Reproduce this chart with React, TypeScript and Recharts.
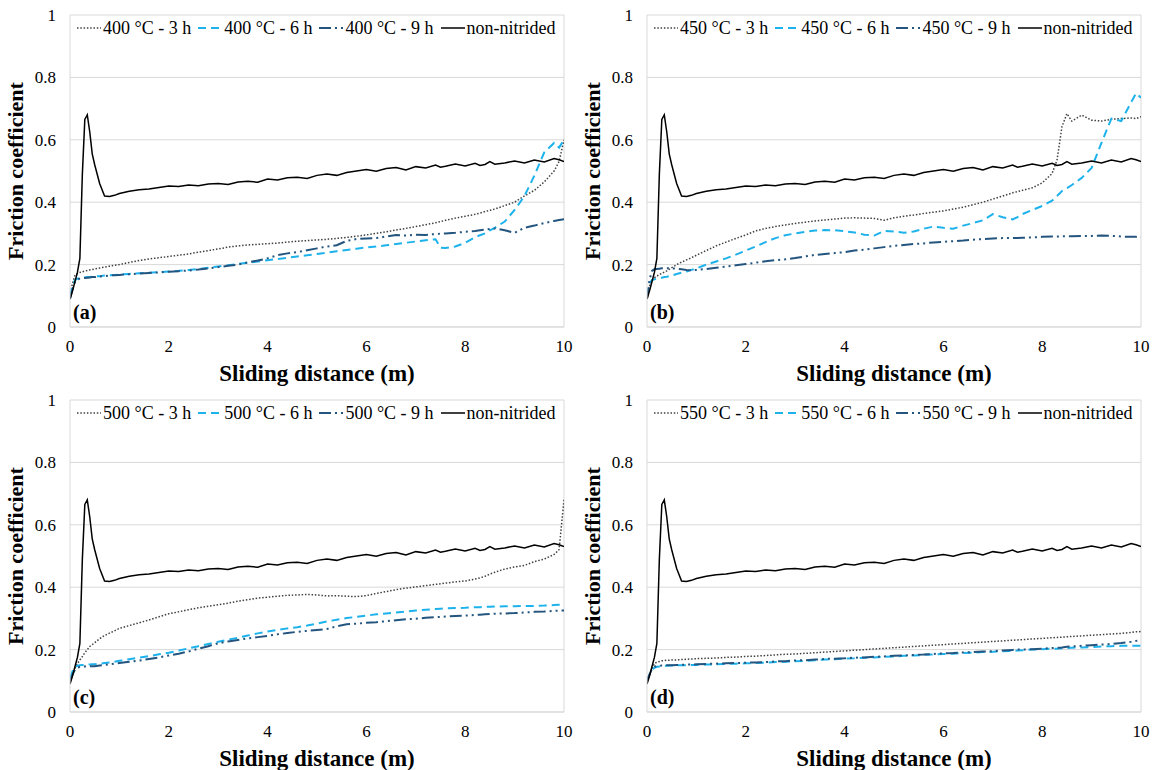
import React from 'react';
import { LineChart, Line, XAxis, YAxis, CartesianGrid, ReferenceLine } from 'recharts';

// Sliding distance grid (m)
const DIST = [
  0, 0.05, 0.1, 0.15, 0.2, 0.25, 0.3, 0.35, 0.4, 0.45, 0.5, 0.6, 0.7, 0.8, 0.9,
  1.0, 1.2, 1.4, 1.6, 1.8, 2.0, 2.2, 2.4, 2.6, 2.8, 3.0, 3.2, 3.4, 3.6, 3.8,
  4.0, 4.2, 4.4, 4.6, 4.8, 5.0, 5.2, 5.4, 5.6, 5.8, 6.0, 6.2, 6.4, 6.6, 6.8, 7.0, 7.2, 7.4,
  7.5, 7.6, 7.8, 8.0, 8.2, 8.3, 8.4, 8.5, 8.6, 8.8,
  9.0, 9.2, 9.4, 9.6, 9.8, 9.9, 10.0,
];

const NON_NITRIDED = [
  0.09, 0.115, 0.145, 0.175, 0.22, 0.49, 0.665, 0.68, 0.625, 0.555, 0.52, 0.46, 0.42, 0.418, 0.422,
  0.428, 0.435, 0.44, 0.442, 0.447, 0.452, 0.45, 0.455, 0.453, 0.458, 0.46, 0.457, 0.465, 0.467, 0.464,
  0.474, 0.471, 0.478, 0.48, 0.476, 0.486, 0.49, 0.486, 0.495, 0.5, 0.505, 0.499, 0.508, 0.511, 0.503, 0.514, 0.51, 0.519,
  0.512, 0.515, 0.522, 0.516, 0.525, 0.518, 0.521, 0.53, 0.522, 0.526,
  0.532, 0.526, 0.535, 0.529, 0.54, 0.536, 0.53,
];

// 400 °C
const T400_3H = [
  0.10, 0.14, 0.165, 0.172, 0.175, 0.177, 0.179, 0.181, 0.183, 0.184, 0.186, 0.189, 0.192, 0.195, 0.198,
  0.20, 0.207, 0.213, 0.218, 0.222, 0.226, 0.23, 0.234, 0.24, 0.245, 0.25, 0.256, 0.26, 0.263, 0.265,
  0.267, 0.269, 0.272, 0.275, 0.277, 0.279, 0.281, 0.284, 0.287, 0.291, 0.295, 0.3, 0.305, 0.311, 0.316, 0.322, 0.328, 0.334,
  0.338, 0.342, 0.349, 0.355, 0.361, 0.365, 0.37, 0.374, 0.378, 0.389,
  0.40, 0.42, 0.438, 0.465, 0.50, 0.53, 0.60,
];
const T400_6H = [
  0.10, 0.13, 0.15, 0.155, 0.157, 0.158, 0.159, 0.16, 0.16, 0.161, 0.162, 0.163, 0.165, 0.166, 0.167,
  0.168, 0.17, 0.172, 0.174, 0.176, 0.178, 0.18, 0.183, 0.186, 0.19, 0.194, 0.198, 0.202, 0.206, 0.21,
  0.214, 0.218, 0.222, 0.226, 0.23, 0.234, 0.238, 0.243, 0.247, 0.251, 0.255, 0.258, 0.262, 0.266, 0.27, 0.274, 0.278, 0.281,
  0.254, 0.253, 0.258, 0.27, 0.288, 0.294, 0.30, 0.31, 0.318, 0.338,
  0.375, 0.42, 0.485, 0.56, 0.59, 0.575, 0.60,
];
const T400_9H = [
  0.09, 0.12, 0.145, 0.152, 0.155, 0.156, 0.157, 0.158, 0.159, 0.16, 0.16, 0.162, 0.163, 0.165, 0.166,
  0.167, 0.169, 0.171, 0.173, 0.175, 0.177, 0.179, 0.181, 0.184, 0.188, 0.192, 0.196, 0.2, 0.207, 0.213,
  0.22, 0.23, 0.236, 0.24, 0.246, 0.252, 0.258, 0.262, 0.276, 0.282, 0.284, 0.285, 0.29, 0.295, 0.293, 0.296, 0.295, 0.298,
  0.299, 0.30, 0.302, 0.305, 0.308, 0.31, 0.312, 0.314, 0.316, 0.31,
  0.302, 0.318, 0.325, 0.333, 0.34, 0.343, 0.345,
];

// 450 °C
const T450_3H = [
  0.10, 0.13, 0.15, 0.158, 0.163, 0.168, 0.172, 0.176, 0.18, 0.185, 0.19, 0.2, 0.208, 0.215, 0.222,
  0.23, 0.245, 0.26, 0.272, 0.284, 0.295, 0.308, 0.316, 0.322, 0.327, 0.332, 0.336, 0.34, 0.343, 0.346,
  0.349, 0.35, 0.349, 0.348, 0.342, 0.35, 0.355, 0.359, 0.364, 0.368, 0.372, 0.378, 0.384, 0.392, 0.40, 0.41, 0.42, 0.43,
  0.434, 0.438, 0.446, 0.462, 0.492, 0.535, 0.642, 0.684, 0.66, 0.679,
  0.663, 0.66, 0.666, 0.668, 0.67, 0.668, 0.674,
];
const T450_6H = [
  0.10, 0.14, 0.15, 0.153, 0.155, 0.157, 0.158, 0.16, 0.161, 0.163, 0.165, 0.17, 0.174, 0.178, 0.183,
  0.188, 0.2, 0.21, 0.22, 0.232, 0.245, 0.258, 0.272, 0.285, 0.294, 0.30, 0.305, 0.309, 0.311, 0.31,
  0.307, 0.303, 0.296, 0.293, 0.308, 0.306, 0.302, 0.306, 0.315, 0.322, 0.318, 0.315, 0.325, 0.333, 0.342, 0.362, 0.352, 0.345,
  0.352, 0.362, 0.375, 0.388, 0.405, 0.42, 0.436, 0.445, 0.455, 0.478,
  0.51, 0.59, 0.668, 0.66, 0.72, 0.749, 0.735,
];
const T450_9H = [
  0.09, 0.15, 0.18, 0.185, 0.186, 0.187, 0.188, 0.188, 0.188, 0.188, 0.188, 0.187, 0.185, 0.183, 0.182,
  0.183, 0.186, 0.19, 0.194, 0.198, 0.202, 0.206, 0.211, 0.214, 0.217, 0.221, 0.226, 0.231, 0.234, 0.237,
  0.24, 0.245, 0.248, 0.252, 0.256, 0.26, 0.263, 0.266, 0.268, 0.271, 0.273, 0.275, 0.277, 0.28, 0.282, 0.284, 0.285, 0.285,
  0.285, 0.286, 0.287, 0.289, 0.29, 0.29, 0.291, 0.291, 0.291, 0.292,
  0.292, 0.293, 0.292, 0.29, 0.289, 0.289, 0.288,
];

// 500 °C
const T500_3H = [
  0.10, 0.12, 0.14, 0.155, 0.167, 0.178, 0.19, 0.2, 0.21, 0.216, 0.222, 0.235, 0.245, 0.253, 0.26,
  0.268, 0.277, 0.286, 0.295, 0.305, 0.315, 0.321, 0.328, 0.334, 0.339, 0.344, 0.349, 0.355, 0.36, 0.365,
  0.368, 0.371, 0.374, 0.375, 0.377, 0.375, 0.372, 0.373, 0.371, 0.37, 0.373, 0.38, 0.386, 0.392, 0.397, 0.401, 0.405, 0.409,
  0.411, 0.413, 0.417, 0.42, 0.426, 0.43, 0.435, 0.442, 0.448, 0.458,
  0.465, 0.47, 0.482, 0.49, 0.505, 0.52, 0.68,
];
const T500_6H = [
  0.11, 0.13, 0.145, 0.148, 0.15, 0.151, 0.151, 0.152, 0.152, 0.153, 0.153, 0.155, 0.157, 0.159, 0.161,
  0.164, 0.169, 0.174, 0.179, 0.185, 0.19, 0.197, 0.204, 0.211, 0.218, 0.225, 0.232, 0.238, 0.245, 0.252,
  0.258, 0.263, 0.268, 0.272, 0.277, 0.283, 0.29, 0.296, 0.301, 0.305, 0.309, 0.313, 0.316, 0.319, 0.322, 0.325, 0.328, 0.33,
  0.331, 0.332, 0.333, 0.334, 0.336, 0.336, 0.337, 0.337, 0.338, 0.339,
  0.339, 0.34, 0.34, 0.341, 0.343, 0.344, 0.345,
];
const T500_9H = [
  0.10, 0.12, 0.135, 0.142, 0.145, 0.146, 0.146, 0.147, 0.147, 0.147, 0.147, 0.149, 0.151, 0.153, 0.155,
  0.157, 0.161, 0.165, 0.17, 0.175, 0.181, 0.187, 0.194, 0.203, 0.211, 0.22, 0.226, 0.231, 0.236, 0.24,
  0.244, 0.249, 0.253, 0.257, 0.26, 0.263, 0.266, 0.275, 0.281, 0.283, 0.286, 0.288, 0.291, 0.294, 0.297, 0.299, 0.302, 0.304,
  0.305, 0.306, 0.308, 0.309, 0.311, 0.312, 0.313, 0.314, 0.315, 0.316,
  0.317, 0.319, 0.321, 0.322, 0.324, 0.325, 0.325,
];

// 550 °C
const T550_3H = [
  0.10, 0.12, 0.14, 0.155, 0.16, 0.162, 0.164, 0.165, 0.166, 0.166, 0.167, 0.167, 0.168, 0.169, 0.17,
  0.171, 0.172, 0.173, 0.175, 0.176, 0.178, 0.179, 0.181, 0.183, 0.185, 0.186, 0.188, 0.19, 0.192, 0.194,
  0.196, 0.198, 0.2, 0.202, 0.204, 0.206, 0.208, 0.21, 0.212, 0.214, 0.216, 0.218, 0.22, 0.222, 0.224, 0.226, 0.228, 0.23,
  0.231, 0.232, 0.234, 0.236, 0.238, 0.239, 0.24, 0.241, 0.242, 0.244,
  0.246, 0.248, 0.25, 0.252, 0.255, 0.257, 0.258,
];
const T550_6H = [
  0.10, 0.12, 0.135, 0.142, 0.145, 0.146, 0.147, 0.148, 0.148, 0.149, 0.149, 0.15, 0.15, 0.15, 0.151,
  0.151, 0.152, 0.153, 0.154, 0.155, 0.156, 0.157, 0.158, 0.16, 0.161, 0.163, 0.164, 0.166, 0.168, 0.169,
  0.171, 0.172, 0.174, 0.175, 0.177, 0.178, 0.18, 0.181, 0.183, 0.184, 0.186, 0.187, 0.189, 0.19, 0.192, 0.193, 0.195, 0.196,
  0.197, 0.198, 0.2, 0.201, 0.203, 0.203, 0.204, 0.205, 0.206, 0.207,
  0.208, 0.21, 0.211, 0.212, 0.212, 0.212, 0.212,
];
const T550_9H = [
  0.10, 0.12, 0.138, 0.145, 0.147, 0.148, 0.149, 0.149, 0.15, 0.15, 0.15, 0.151, 0.151, 0.152, 0.152,
  0.153, 0.154, 0.155, 0.156, 0.157, 0.158, 0.159, 0.16, 0.162, 0.163, 0.165, 0.166, 0.168, 0.17, 0.171,
  0.172, 0.174, 0.175, 0.177, 0.178, 0.18, 0.181, 0.183, 0.184, 0.186, 0.188, 0.189, 0.191, 0.192, 0.194, 0.195, 0.197, 0.199,
  0.2, 0.2, 0.201, 0.203, 0.205, 0.206, 0.207, 0.209, 0.21, 0.212,
  0.214, 0.216, 0.218, 0.221, 0.225, 0.228, 0.23,
];

const Y_TICKS = [0, 0.2, 0.4, 0.6, 0.8, 1];
const X_TICKS = [0, 2, 4, 6, 8, 10];
const X_TITLE = 'Sliding distance (m)';
const Y_TITLE = 'Friction coefficient';
const NN_LABEL = 'non-nitrided';

const FONT = "'Liberation Serif', 'DejaVu Serif', 'Noto Serif', 'Times New Roman', Times, serif";
const COL3 = '#404040';
const COL6 = '#1db2ec';
const COL9 = '#24557f';
const COLNN = '#000000';
const GRID = '#d9d9d9';

const DASH3 = '1.5 1.8';
const DASH6 = '8 5';
const DASH9 = '12 4 2 4 2 4';

type PanelProps = {
  left: number;
  top: number;
  temp: string;
  tag: string;
  s3: number[];
  s6: number[];
  s9: number[];
};

function Sample({ color, dash, width }: { color: string; dash?: string; width: number }) {
  return (
    <svg width={24} height={10} style={{ display: 'block', marginRight: 2 }}>
      <line x1={0} y1={5} x2={24} y2={5} stroke={color} strokeWidth={width} strokeDasharray={dash} />
    </svg>
  );
}

function Panel({ left, top, temp, tag, s3, s6, s9 }: PanelProps) {
  const rows = DIST.map((d, i) => ({ d, s3: s3[i], s6: s6[i], s9: s9[i], nn: NON_NITRIDED[i] }));
  const items = [
    { label: `${temp} °C - 3 h`, color: COL3, dash: DASH3, w: 1.5 },
    { label: `${temp} °C - 6 h`, color: COL6, dash: DASH6, w: 2 },
    { label: `${temp} °C - 9 h`, color: COL9, dash: DASH9, w: 2 },
    { label: NN_LABEL, color: COLNN, dash: undefined, w: 1.5 },
  ];
  return (
    <div style={{ position: 'absolute', left, top, width: 580, height: 385, fontFamily: FONT }}>
      <LineChart width={580} height={385} data={rows} margin={{ top: 15, right: 16, left: 0, bottom: 0 }} style={{ fontFamily: FONT }}>
        <CartesianGrid vertical={false} stroke={GRID} />
        <ReferenceLine x={10} stroke={GRID} />
        <XAxis
          dataKey="d"
          type="number"
          domain={[0, 10]}
          ticks={X_TICKS}
          allowDataOverflow
          axisLine={{ stroke: GRID }}
          tickLine={false}
          tickSize={0}
          tickMargin={13}
          height={58}
          tick={{ fill: '#000', fontSize: 17, fontFamily: FONT }}
        />
        <YAxis
          type="number"
          domain={[0, 1]}
          ticks={Y_TICKS}
          allowDataOverflow
          axisLine={{ stroke: GRID }}
          tickLine={false}
          tickSize={0}
          tickMargin={14}
          width={70}
          tick={{ fill: '#000', fontSize: 17, fontFamily: FONT }}
        />
        <Line type="linear" dataKey="s3" stroke={COL3} strokeWidth={1.5} strokeDasharray={DASH3} dot={false} isAnimationActive={false} />
        <Line type="linear" dataKey="s6" stroke={COL6} strokeWidth={2} strokeDasharray={DASH6} dot={false} isAnimationActive={false} />
        <Line type="linear" dataKey="s9" stroke={COL9} strokeWidth={2} strokeDasharray={DASH9} dot={false} isAnimationActive={false} />
        <Line type="linear" dataKey="nn" stroke={COLNN} strokeWidth={1.5} dot={false} isAnimationActive={false} />
      </LineChart>
      <div
        style={{
          position: 'absolute', left: 77, top: 18, display: 'flex', alignItems: 'center',
          fontFamily: FONT, fontSize: 18, lineHeight: '20px', whiteSpace: 'nowrap', color: '#000',
        }}
      >
        {items.map((it) => (
          <div key={it.label} style={{ display: 'flex', alignItems: 'center', marginRight: 7 }}>
            <Sample color={it.color} dash={it.dash} width={it.w} />
            <span>{it.label}</span>
          </div>
        ))}
      </div>
      <div
        style={{
          position: 'absolute', left: 73, top: 301, fontFamily: FONT, fontSize: 20,
          fontWeight: 'bold', lineHeight: '22px', color: '#000',
        }}
      >
        {tag}
      </div>
      <div
        style={{
          position: 'absolute', left: 70, width: 494, top: 361, textAlign: 'center', fontFamily: FONT,
          fontSize: 23, fontWeight: 'bold', lineHeight: '26px', color: '#000', whiteSpace: 'nowrap',
        }}
      >
        {X_TITLE}
      </div>
      <div
        style={{
          position: 'absolute', left: 16 - 156, top: 171 - 13, width: 312, height: 26, textAlign: 'center',
          fontFamily: FONT, fontSize: 22, fontWeight: 'bold', lineHeight: '26px', color: '#000',
          transform: 'rotate(-90deg)', transformOrigin: '50% 50%', whiteSpace: 'nowrap',
        }}
      >
        {Y_TITLE}
      </div>
    </div>
  );
}

export default function App() {
  return (
    <div style={{ position: 'absolute', left: 0, top: 0, width: 1162, height: 770, background: '#fff', overflow: 'hidden' }}>
      <Panel left={0} top={0} temp="400" tag="(a)" s3={T400_3H} s6={T400_6H} s9={T400_9H} />
      <Panel left={577} top={0} temp="450" tag="(b)" s3={T450_3H} s6={T450_6H} s9={T450_9H} />
      <Panel left={0} top={385} temp="500" tag="(c)" s3={T500_3H} s6={T500_6H} s9={T500_9H} />
      <Panel left={577} top={385} temp="550" tag="(d)" s3={T550_3H} s6={T550_6H} s9={T550_9H} />
    </div>
  );
}
